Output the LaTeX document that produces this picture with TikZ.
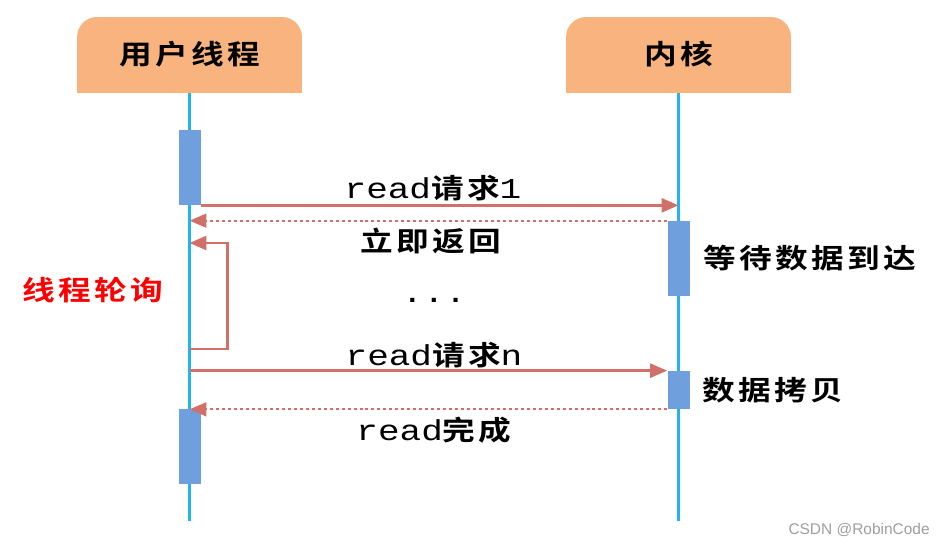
\documentclass[tikz,border=0pt]{standalone}
\usepackage{fontspec}
\usetikzlibrary{arrows.meta}
\newfontfamily\cjk[FakeStretch=1.2,LetterSpace=12,BoldFont={Noto Sans CJK SC Bold}]{Noto Sans CJK SC}
\newfontfamily\codefont[FakeStretch=1.25]{Liberation Mono}
\newfontfamily\markfont{Liberation Sans}
\newcommand{\codetxt}[1]{{\codefont\mdseries\fontsize{16.4}{18}\selectfont #1}}
\definecolor{headorange}{HTML}{F8B37F}
\definecolor{lifeblue}{HTML}{22B5EC}
\definecolor{actblue}{HTML}{6F9FDC}
\definecolor{msgred}{HTML}{D07068}
\tikzset{
  head/.style={fill=headorange,rounded corners=0.4cm,minimum width=4.5cm,minimum height=1.52cm,inner sep=0pt},
  lifeline/.style={lifeblue,line width=1.5pt},
  act/.style={fill=actblue,minimum width=0.44cm,inner sep=0pt},
  msg/.style={msgred,line width=1.5pt,-{Triangle[length=0.34cm,width=0.28cm]}},
  reply/.style={msg,line width=1.1pt,dash pattern=on 1.7pt off 1.7pt},
  cn/.style={inner sep=0pt,font=\cjk\bfseries\fontsize{15.5}{17}\selectfont}
}
\begin{document}
\begin{tikzpicture}[x=0.02cm,y=-0.02cm]
  \useasboundingbox (0,0) rectangle (946,545);
  % heads
  \node[head] at (189.5,55) (U) {};
  \fill[headorange] (U.west) rectangle (U.south east);
  \node[cn] at (189.5,54) (Ulabel) {用户线程};
  \node[head] at (678.5,55) (K) {};
  \fill[headorange] (K.west) rectangle (K.south east);
  \node[cn] at (678.5,54) (Klabel) {内核};
  % lifelines
  \coordinate (Uend) at (189.5,521);
  \coordinate (Kend) at (678.5,521);
  \draw[lifeline] (U.south) -- (Uend);
  \draw[lifeline] (K.south) -- (Kend);
  % activations
  \node[act,minimum height=1.5cm] at (189.5,167.5) (U1) {};
  \node[act,minimum height=1.5cm] at (189.5,446.5) (U2) {};
  \node[act,minimum height=1.5cm] at (678.5,258.5) (K1) {};
  \node[act,minimum height=0.76cm] at (678.5,390) (K2) {};
  % first request
  \draw[msg] (U1.south east) -- (U1.south east -| K);
  \node[cn] at (433,188) (L1) {\codetxt{read}请求\codetxt{1}};
  \draw[reply] (K1.north west) -- (K1.north west -| U);
  \node[cn] at (431,241) (L2) {立即返回};
  % polling
  \coordinate (P1) at (189.5,349);
  \coordinate (P2) at (189.5,243);
  \draw[msg] (P1) -- ++(38,0) |- (P2);
  \node[cn,text=red] at (93,290) (L3) {线程轮询};
  \node at (434,300) (L4) {\codetxt{...}};
  % last request
  \draw[msg] (K2.north west -| U) -- (K2.north west);
  \node[cn] at (434,355) (L5) {\codetxt{read}请求\codetxt{n}};
  \draw[reply] (K2.south west) -- (K2.south west -| U);
  \node[cn] at (434,430) (L6) {\codetxt{read}完成};
  % kernel side
  \node[cn,anchor=west] at (703,258) (L7) {等待数据到达};
  \node[cn,anchor=west] at (702,390) (L8) {数据拷贝};
  \node[anchor=east,inner sep=0pt,text=black!38,font=\markfont\fontsize{8.8}{10}\selectfont] at (930,530) (W) {CSDN @RobinCode};
\end{tikzpicture}
\end{document}
